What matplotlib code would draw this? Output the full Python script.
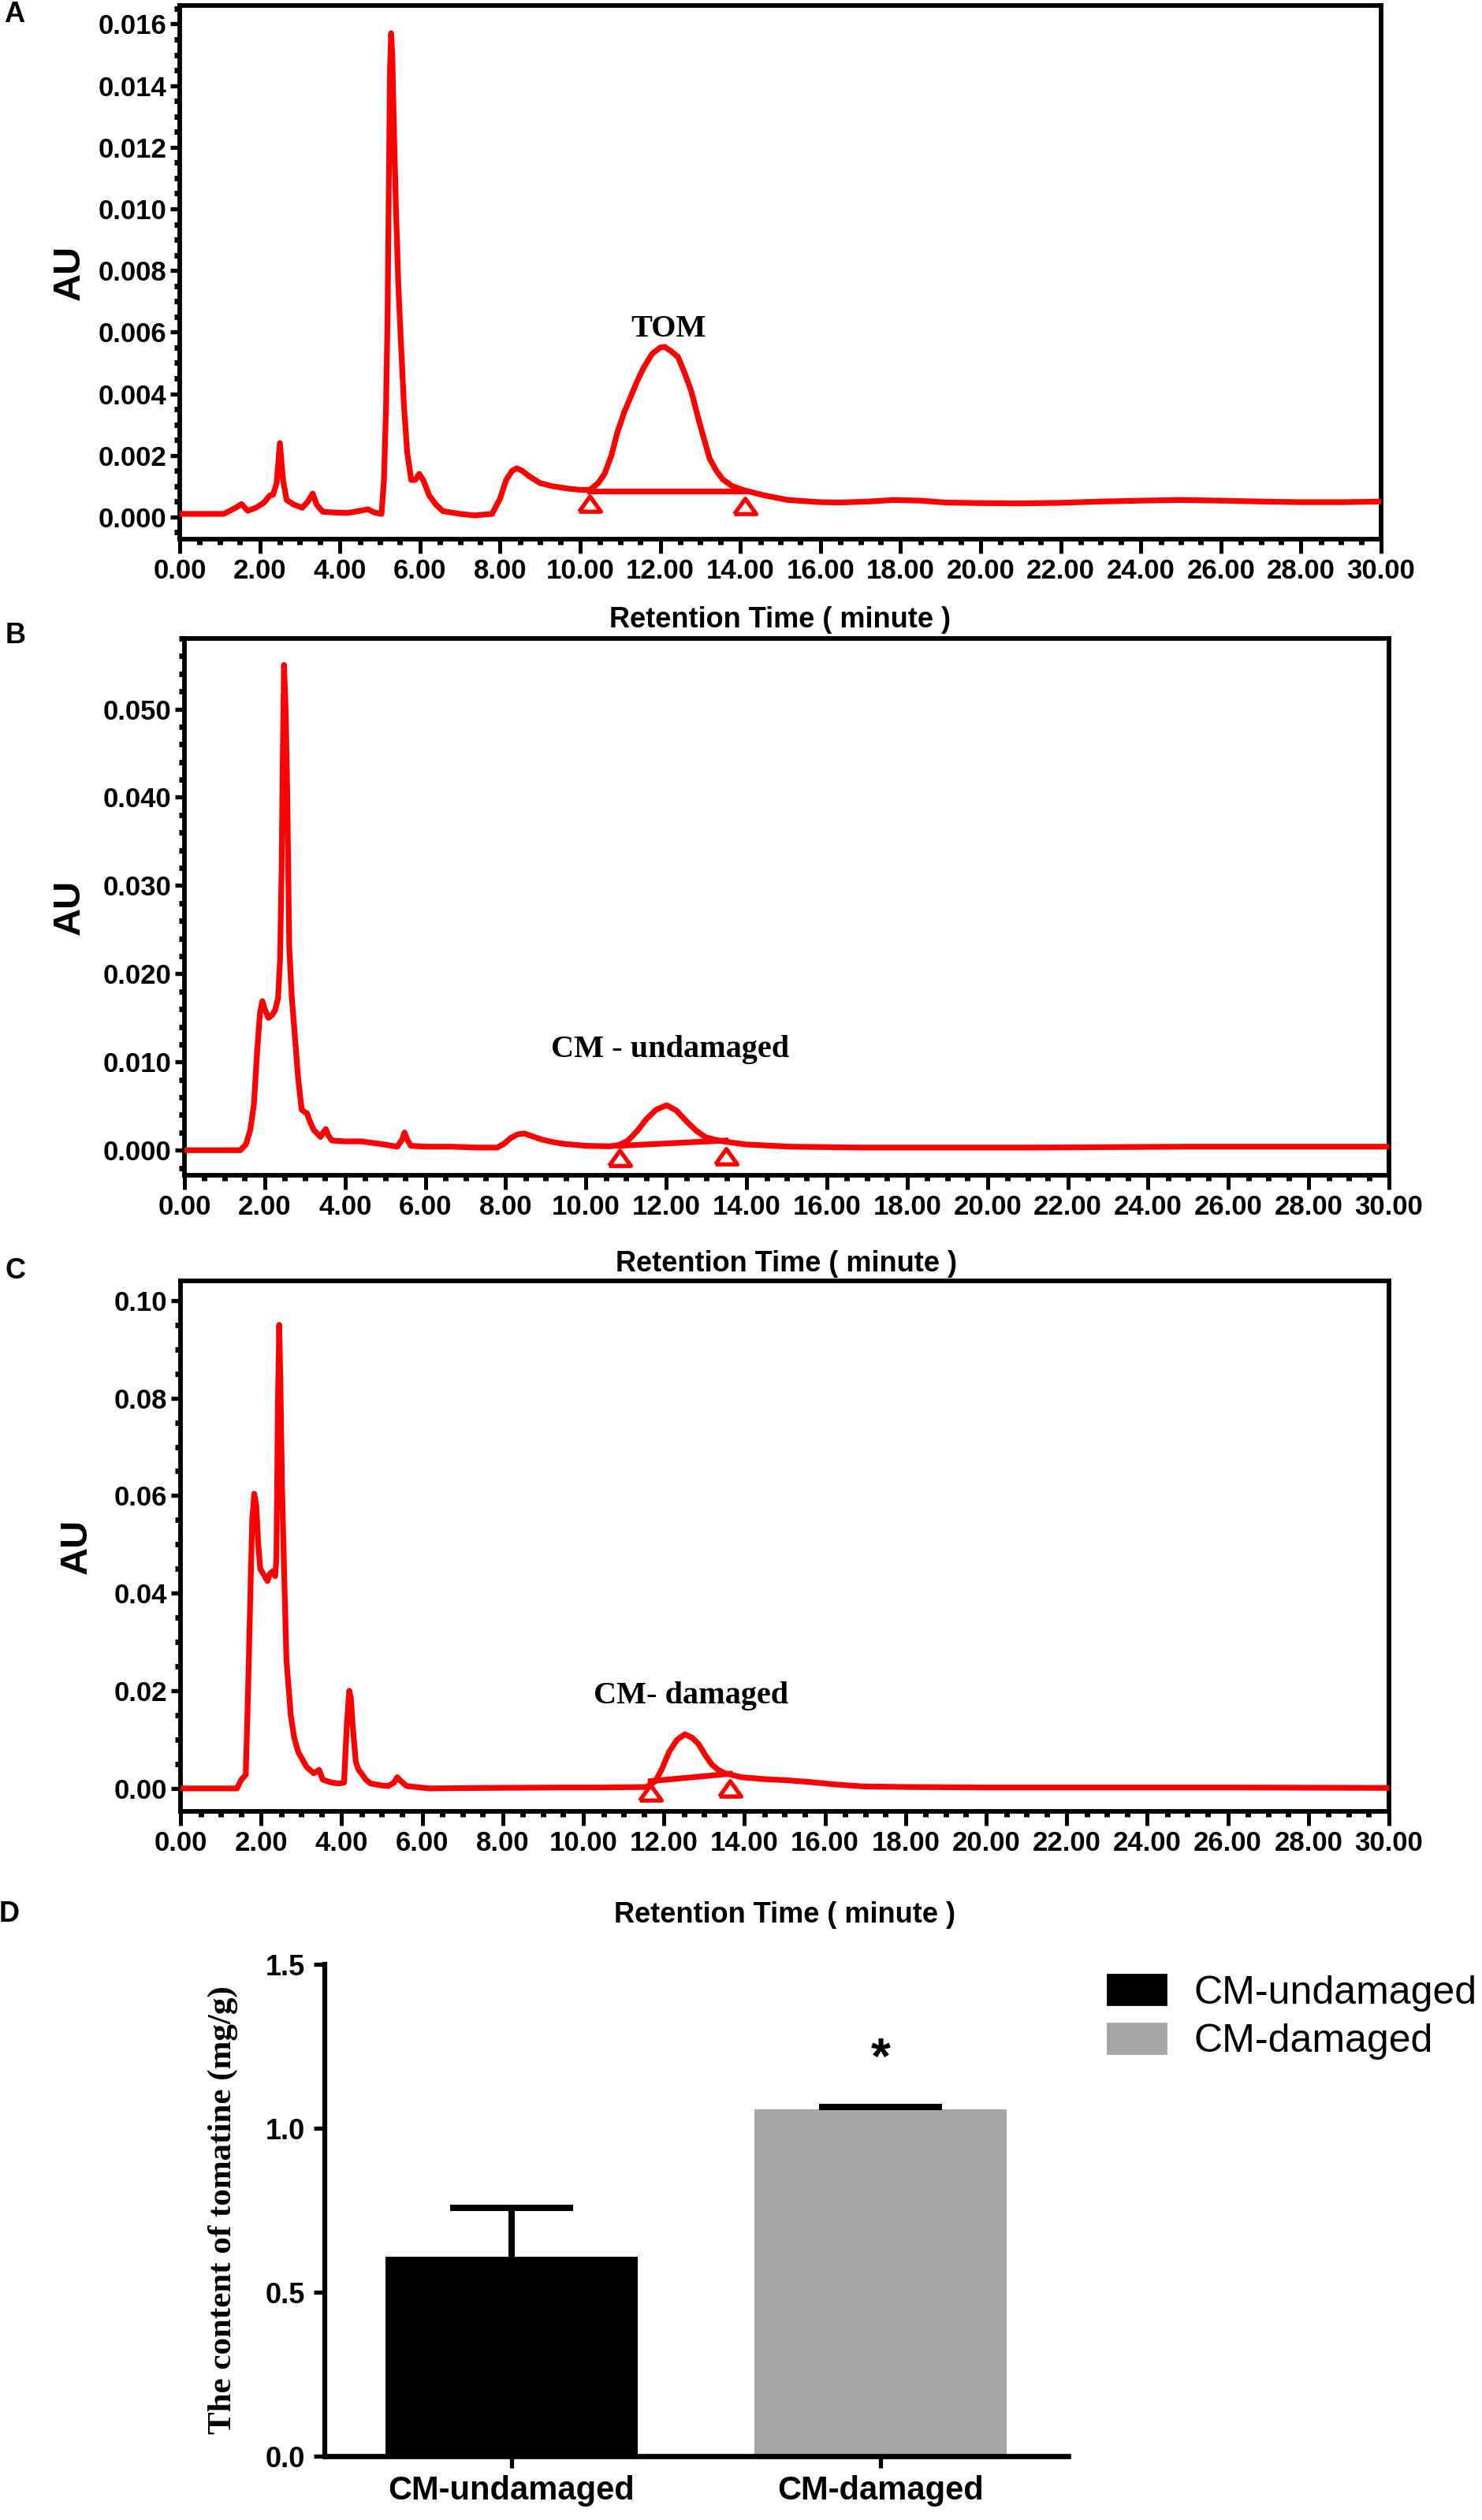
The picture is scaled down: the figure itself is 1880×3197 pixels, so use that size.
import matplotlib
matplotlib.use("Agg")
import matplotlib.pyplot as plt
import numpy as np
from matplotlib.ticker import MultipleLocator, FormatStrFormatter
from matplotlib.patches import Patch

plt.rcParams["font.family"] = ["Liberation Sans", "DejaVu Sans"]
plt.rcParams["font.weight"] = "bold"

RED = "#ff0000"

# ---- panel A: tomatine standard (TOM) ----
tom_time = [0.0, 0.6, 1.1, 1.4, 1.54, 1.7, 1.9, 2.1, 2.25, 2.33, 2.42, 2.5, 2.58,
            2.67, 2.85, 3.06, 3.2, 3.32, 3.42, 3.57, 3.9, 4.2, 4.5, 4.7, 4.85, 5.04,
            5.1, 5.15, 5.19, 5.22, 5.25, 5.28, 5.31, 5.35, 5.4, 5.46, 5.53, 5.6,
            5.68, 5.78, 5.88, 5.98, 6.08, 6.23, 6.4, 6.57, 7.0, 7.36, 7.8, 8.0,
            8.15, 8.3, 8.42, 8.55, 8.75, 9.0, 9.3, 9.7, 10.0, 10.24, 10.45, 10.61,
            10.78, 10.93, 11.1, 11.26, 11.42, 11.59, 11.8, 12.0, 12.11, 12.25,
            12.44, 12.6, 12.77, 12.97, 13.1, 13.23, 13.4, 13.56, 13.8, 14.11, 14.6,
            15.19, 16.0, 16.5, 17.2, 17.8, 18.5, 19.1, 20.0, 21.0, 22.0, 23.0,
            24.0, 25.0, 26.0, 27.0, 28.0, 29.0, 30.0]
tom_au = [0.0001, 0.0001, 0.0001, 0.0003, 0.00042, 0.0002, 0.0003, 0.00046, 0.0007,
          0.00072, 0.0011, 0.0024, 0.0012, 0.00055, 0.0004, 0.0003, 0.0005, 0.00076,
          0.0004, 0.00017, 0.00014, 0.00013, 0.0002, 0.00025, 0.00015, 0.0001,
          0.0012, 0.0035, 0.0065, 0.0105, 0.0145, 0.0157, 0.0149, 0.0125, 0.0100,
          0.0075, 0.0055, 0.0036, 0.0021, 0.0012, 0.0012, 0.0014, 0.0012, 0.0007,
          0.0004, 0.00019, 0.0001, 0.00005, 0.0001, 0.0006, 0.0012, 0.0015,
          0.00158, 0.0015, 0.0013, 0.0011, 0.0010, 0.00092, 0.00088, 0.00088,
          0.0011, 0.0014, 0.0020, 0.00275, 0.0034, 0.0039, 0.0044, 0.00486,
          0.0053, 0.0055, 0.00552, 0.0054, 0.0052, 0.0047, 0.0041, 0.0031, 0.0025,
          0.0019, 0.0015, 0.00122, 0.0010, 0.00086, 0.0007, 0.00055, 0.00048,
          0.00047, 0.0005, 0.00055, 0.00053, 0.00047, 0.00045, 0.00044, 0.00046,
          0.0005, 0.00053, 0.00055, 0.00053, 0.0005, 0.00048, 0.00048, 0.0005]
tom_base_time = [10.24, 14.11]
tom_base_au = [0.00084, 0.00084]
tom_mark_au = [0.00042, 0.00036]

# ---- panel B: CM - undamaged ----
und_time = [0.0, 0.6, 1.39, 1.53, 1.64, 1.73, 1.81, 1.88, 1.94, 2.0, 2.09, 2.18,
            2.26, 2.33, 2.38, 2.42, 2.45, 2.48, 2.52, 2.56, 2.61, 2.67, 2.73, 2.83,
            2.92, 3.0, 3.05, 3.12, 3.22, 3.39, 3.47, 3.52, 3.58, 3.67, 4.0, 4.4,
            4.9, 5.3, 5.42, 5.48, 5.55, 5.64, 6.0, 6.66, 7.3, 7.79, 7.95, 8.13,
            8.3, 8.46, 8.65, 8.91, 9.2, 9.48, 10.0, 10.6, 10.83, 11.05, 11.28, 11.5,
            11.75, 12.01, 12.25, 12.52, 12.75, 12.97, 13.2, 13.42, 13.98, 15.1,
            16.9, 19.0, 21.0, 23.0, 25.0, 27.0, 30.0]
und_au = [0.0, 0.0, 0.0, 0.00065, 0.0023, 0.0052, 0.0112, 0.0155, 0.0169, 0.0160,
          0.0150, 0.0153, 0.0159, 0.0172, 0.0215, 0.0319, 0.045, 0.055, 0.050,
          0.0407, 0.023, 0.0175, 0.0141, 0.0082, 0.0046, 0.0043, 0.0042, 0.0033,
          0.0023, 0.0015, 0.0021, 0.0024, 0.0017, 0.0011, 0.0010, 0.0010, 0.0007,
          0.0004, 0.0012, 0.0020, 0.0012, 0.0005, 0.0004, 0.0004, 0.0003, 0.0003,
          0.0007, 0.0014, 0.0018, 0.0019, 0.0016, 0.0012, 0.0009, 0.0007, 0.0005,
          0.00044, 0.0006, 0.0011, 0.0022, 0.0035, 0.0046, 0.0051, 0.0045, 0.0032,
          0.0022, 0.0015, 0.0012, 0.0010, 0.00065, 0.0004, 0.0003, 0.0003, 0.0003,
          0.00035, 0.0004, 0.0004, 0.0004]
und_base_time = [10.83, 13.48]
und_base_au = [0.0005, 0.0011]
und_mark_au = [-0.0009, -0.0007]

# ---- panel C: CM - damaged ----
dam_time = [0.0, 0.7, 1.4, 1.51, 1.62, 1.68, 1.74, 1.78, 1.83, 1.88, 1.93, 1.98,
            2.08, 2.16, 2.22, 2.29, 2.35, 2.38, 2.42, 2.45, 2.48, 2.52, 2.57, 2.63,
            2.74, 2.82, 2.92, 3.13, 3.31, 3.4, 3.44, 3.53, 3.75, 3.93, 4.06, 4.13,
            4.19, 4.23, 4.27, 4.35, 4.42, 4.49, 4.6, 4.72, 5.0, 5.16, 5.3, 5.38,
            5.46, 5.61, 6.17, 7.5, 9.54, 10.5, 11.57, 11.79, 11.95, 12.13, 12.33,
            12.52, 12.7, 12.86, 13.03, 13.19, 13.35, 13.52, 13.92, 14.5, 15.0,
            15.5, 16.28, 16.96, 18.0, 20.0, 23.0, 26.0, 30.0]
dam_au = [0.0, 0.0, 0.0, 0.0018, 0.0028, 0.021, 0.0419, 0.055, 0.0604, 0.058,
          0.050, 0.045, 0.0436, 0.0425, 0.0440, 0.0445, 0.0435, 0.047, 0.080,
          0.095, 0.083, 0.062, 0.045, 0.0263, 0.0148, 0.0105, 0.0075, 0.0044,
          0.0031, 0.0036, 0.0038, 0.0018, 0.0012, 0.0010, 0.0012, 0.0133, 0.0200,
          0.0185, 0.0133, 0.0055, 0.0038, 0.0031, 0.0018, 0.0010, 0.0006, 0.0005,
          0.0012, 0.0023, 0.0016, 0.0005, 0.0, 0.0001, 0.0002, 0.0002, 0.0003,
          0.0015, 0.0040, 0.0075, 0.0100, 0.0111, 0.0104, 0.0091, 0.0068, 0.0049,
          0.0038, 0.0031, 0.0023, 0.0019, 0.0017, 0.0014, 0.0008, 0.0004, 0.0003,
          0.0002, 0.0002, 0.0002, 0.0001]
dam_base_time = [11.67, 13.64]
dam_base_au = [0.0015, 0.0030]
dam_mark_au = [-0.0009, 0.0000]

# ---- panel D: tomatine content ----
bar_labels = ["CM-undamaged", "CM-damaged"]
bar_means = [0.607, 1.058]
bar_errs = [0.150, 0.007]
bar_colors = ["#000000", "#a6a6a6"]
star_y = 1.207

W, H = 1881, 3197
fig = plt.figure(figsize=(W / 100, H / 100), dpi=100)

TRI = [(-1, -0.7), (1, -0.7), (0, 0.7), (-1, -0.7)]


def px_rect(left, top, right, bottom):
    return [left / W, 1 - bottom / H, (right - left) / W, (bottom - top) / H]


def chromatogram(rect, t, au, bt, bau, mau, ylim, ymaj, ymin, yfmt,
                 xlab_y, au_x, peak_text, peak_xy):
    ax = fig.add_axes(rect)
    ax.plot(t, au, color=RED, lw=5.2, solid_joinstyle="round", zorder=3)
    ax.plot(bt, bau, color=RED, lw=5.2, zorder=3)
    ax.plot(bt, mau, linestyle="none", marker=TRI, markersize=20,
            markerfacecolor="white", markeredgecolor=RED, markeredgewidth=3.8,
            zorder=4)
    ax.set_xlim(0, 30)
    ax.set_ylim(*ylim)
    ax.xaxis.set_major_locator(MultipleLocator(2))
    ax.xaxis.set_minor_locator(MultipleLocator(0.5))
    ax.xaxis.set_major_formatter(FormatStrFormatter("%.2f"))
    ax.yaxis.set_major_locator(MultipleLocator(ymaj))
    ax.yaxis.set_minor_locator(MultipleLocator(ymin))
    ax.yaxis.set_major_formatter(FormatStrFormatter(yfmt))
    for s in ax.spines.values():
        s.set_linewidth(4.2)
    ax.tick_params(axis="x", which="major", length=13, width=3.6,
                   labelsize=25, pad=4)
    ax.tick_params(axis="y", which="major", length=9, width=3.8,
                   labelsize=25, pad=3)
    ax.tick_params(which="minor", length=5, width=5)
    ax.text(0.5, xlab_y, "Retention Time ( minute )", transform=ax.transAxes,
            ha="center", va="center", fontsize=26, fontweight="bold")
    ax.text(au_x, 0.5, "AU", transform=ax.transAxes, rotation=90,
            ha="center", va="center", fontsize=35, fontweight="bold")
    ax.text(peak_xy[0], peak_xy[1], peak_text, ha="center", va="center",
            fontsize=29, fontweight="bold",
            family=["Liberation Serif", "DejaVu Serif"])
    return ax


chromatogram(px_rect(228, 7, 1752, 684), tom_time, tom_au, tom_base_time,
             tom_base_au, tom_mark_au, (-0.00072, 0.0166), 0.002, 0.0005,
             "%.3f", -0.152, -0.092, "TOM", (12.2, 0.0061))
chromatogram(px_rect(234, 810, 1762, 1491), und_time, und_au, und_base_time,
             und_base_au, und_mark_au, (-0.00284, 0.058), 0.010, 0.002,
             "%.3f", -0.1645, -0.0955, "CM - undamaged", (12.1, 0.0114))
chromatogram(px_rect(229, 1625, 1762, 2298), dam_time, dam_au, dam_base_time,
             dam_base_au, dam_mark_au, (-0.0047, 0.104), 0.02, 0.005,
             "%.2f", -0.1947, -0.0861, "CM- damaged", (12.68, 0.0190))

for letter, (x, y) in zip("ABCD", [(18, 19), (20, 806), (20, 1612), (12, 2429)]):
    fig.text(x / W, 1 - y / H, letter, ha="center", va="center",
             fontsize=26, fontweight="bold")

# ---- bar chart ----
axd = fig.add_axes(px_rect(412, 2492, 1355, 3116))
xpos = list(range(len(bar_labels)))
axd.bar(xpos, bar_means, width=0.684, color=bar_colors, zorder=2)
# upper error bars only (no cap at the bar top)
eb = axd.errorbar(xpos, bar_means, yerr=[[0] * len(bar_errs), bar_errs],
                  fmt="none", ecolor="black", elinewidth=5.8, capsize=56,
                  capthick=5.8, zorder=3)
for cap in eb[1]:
    if np.allclose(cap.get_ydata(), bar_means):
        cap.set_visible(False)
axd.text(1, star_y, "*", ha="center", va="center", fontsize=46,
         fontweight="bold")
axd.set_xlim(-0.506, 1.508)
axd.set_ylim(0, 1.5)
axd.set_xticks(xpos)
axd.set_xticklabels(bar_labels)
axd.yaxis.set_major_locator(MultipleLocator(0.5))
axd.yaxis.set_major_formatter(FormatStrFormatter("%.1f"))
axd.spines["top"].set_visible(False)
axd.spines["right"].set_visible(False)
axd.spines["left"].set_linewidth(4.5)
axd.spines["bottom"].set_linewidth(4.8)
axd.tick_params(axis="y", length=10, width=3.8, labelsize=26, pad=8)
axd.tick_params(axis="x", length=11, width=3.8, labelsize=30, pad=6)
axd.text(-0.137, 0.5, "The content of tomatine (mg/g)", transform=axd.transAxes,
         rotation=90, ha="center", va="center", fontsize=31, fontweight="bold",
         family=["Liberation Serif", "DejaVu Serif"])

handles = [Patch(facecolor=c, edgecolor=c, linewidth=2, joinstyle="round",
                 label=l) for l, c in zip(bar_labels, bar_colors)]
fig.legend(handles=handles, loc="upper left",
           bbox_to_anchor=(1405 / W, 1 - 2505 / H), frameon=False,
           prop={"family": "Liberation Sans", "size": 36, "weight": "normal"},
           handlelength=1.48, handleheight=0.8, handletextpad=0.72,
           labelspacing=0.3, borderpad=0, borderaxespad=0)

fig.savefig("out.png", dpi=100)
